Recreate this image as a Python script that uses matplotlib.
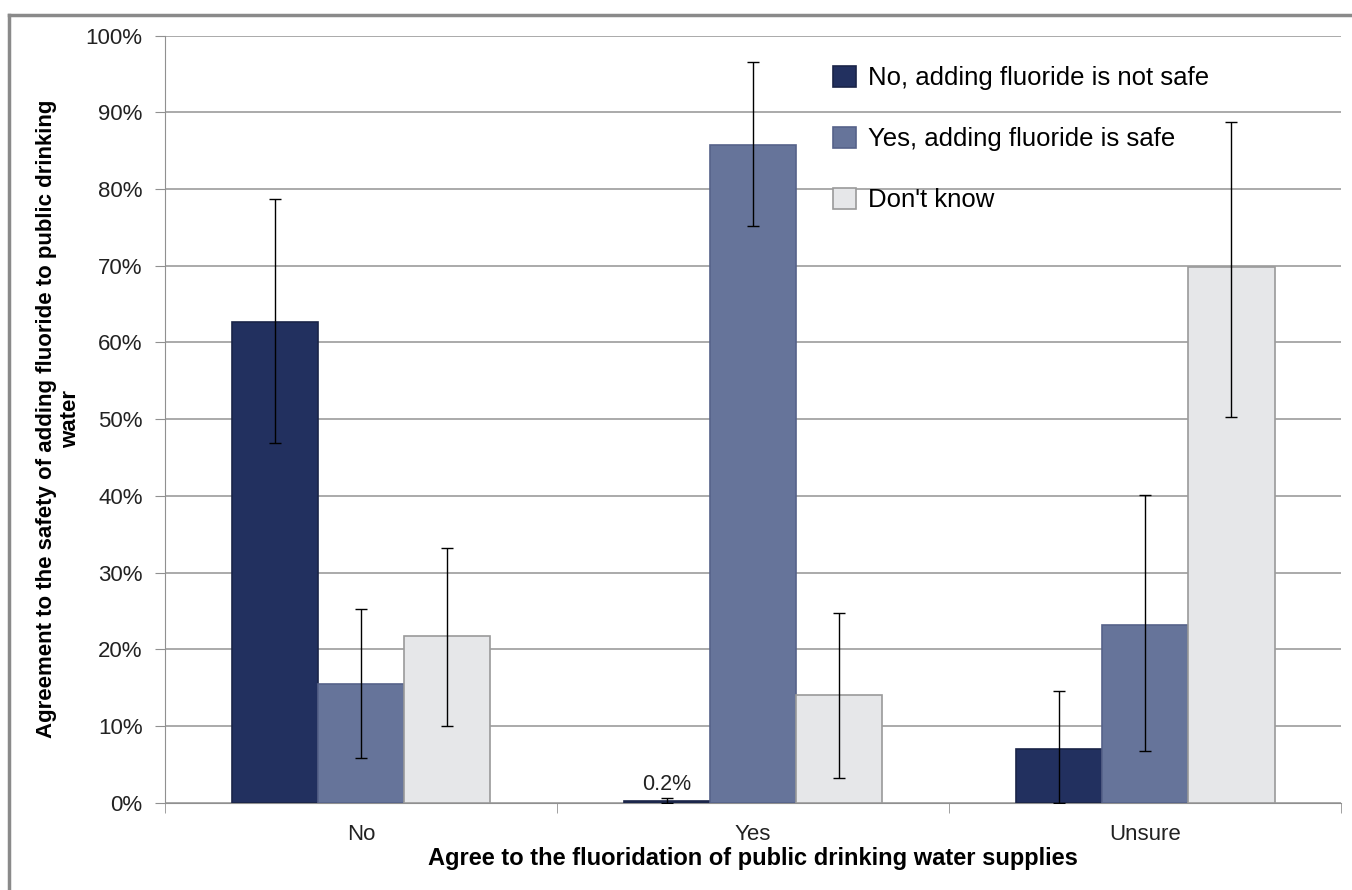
import matplotlib
matplotlib.use("Agg")
import matplotlib.pyplot as plt
import matplotlib.lines as mlines
import numpy as np

plt.rcParams['font.family'] = ['Liberation Sans', 'DejaVu Sans']

categories = ["No", "Yes", "Unsure"]
series = ["No, adding fluoride is not safe", "Yes, adding fluoride is safe", "Don't know"]

# percentages, per series across categories
not_safe = [62.7, 0.2, 7.0]
safe = [15.5, 85.8, 23.2]
dont_know = [21.7, 14.0, 69.8]

# error bar ends (lower, upper)
not_safe_lo = [46.9, 0.0, 0.0]
not_safe_hi = [78.7, 0.6, 14.6]
safe_lo = [5.8, 75.2, 6.7]
safe_hi = [25.3, 96.6, 40.1]
dont_know_lo = [10.0, 3.2, 50.3]
dont_know_hi = [33.2, 24.8, 88.8]

colors = ["#22305f", "#66749a", "#e6e7e9"]
edges = ["#1a2448", "#56628a", "#9a9a9a"]

fig = plt.figure(figsize=(13.52, 8.9), dpi=100)
ax = fig.add_axes([0.122, 0.098, 0.870, 0.862])

x = np.arange(len(categories))
w = 0.22
vals = [not_safe, safe, dont_know]
los = [not_safe_lo, safe_lo, dont_know_lo]
his = [not_safe_hi, safe_hi, dont_know_hi]
for i, (v, lo, hi) in enumerate(zip(vals, los, his)):
    v = np.array(v); lo = np.array(lo); hi = np.array(hi)
    pos = x + (i - 1) * w
    ax.bar(pos, v, w, color=colors[i], edgecolor=edges[i], linewidth=1.2,
           label=series[i], zorder=3)
    ax.errorbar(pos, v, yerr=[v - lo, hi - v], fmt="none", ecolor="black",
                elinewidth=1, capsize=4, capthick=1, zorder=4)

ax.annotate("0.2%", (x[1] - w, not_safe_hi[1]), xytext=(0, 2),
            textcoords="offset points", ha="center", va="bottom", fontsize=15.5,
            color="#222222")

ax.set_xlim(-0.5, 2.5)
ax.set_ylim(0, 100)
ax.set_yticks(np.arange(0, 101, 10))
ax.set_yticklabels([f"{t}%" for t in range(0, 101, 10)], fontsize=16, color="#222222")
ax.yaxis.grid(True, color="#a4a4a4", linewidth=1.3, zorder=0)
ax.set_xticks(x)
ax.set_xticklabels(categories, fontsize=16, color="#222222")
ax.tick_params(axis="x", length=0, pad=15)
ax.set_xticks([-0.5, 0.5, 1.5, 2.5], minor=True)
ax.tick_params(axis="x", which="minor", length=7, color="#909090")
ax.tick_params(axis="y", length=7, color="#909090", pad=9)
for s in ["top", "right"]:
    ax.spines[s].set_visible(False)
for s in ["left", "bottom"]:
    ax.spines[s].set_color("#909090")

ax.set_xlabel("Agree to the fluoridation of public drinking water supplies",
              fontsize=17, fontweight="bold", labelpad=2)
ax.set_ylabel("Agreement to the safety of adding fluoride to public drinking\nwater",
              fontsize=16, fontweight="bold", labelpad=3, linespacing=1.2)

ax.legend(loc="upper left", bbox_to_anchor=(0.568, 0.961), frameon=False,
          borderaxespad=0, borderpad=0,
          fontsize=18.5, labelspacing=1.42, handlelength=0.9, handleheight=0.9,
          handletextpad=0.45)

# frame lines along the top and left edge of the figure
fig.add_artist(mlines.Line2D([0.0066, 1.0], [0.983, 0.983], transform=fig.transFigure,
                             color="#8a8a8a", linewidth=2.5))
fig.add_artist(mlines.Line2D([0.0066, 0.0066], [0.0, 0.983], transform=fig.transFigure,
                             color="#8a8a8a", linewidth=2.5))

fig.savefig("out.png", dpi=100)
